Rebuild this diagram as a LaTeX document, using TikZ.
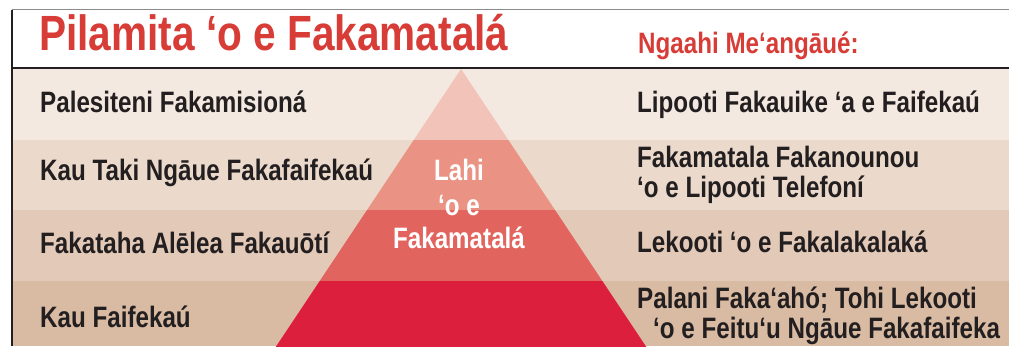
\documentclass[tikz,border=0pt]{standalone}
\usepackage{fontspec}
\setmainfont{Liberation Sans}[FakeStretch=0.82]
\definecolor{ink}{HTML}{231F20}
\definecolor{titlered}{HTML}{D73C37}
\definecolor{bandA}{HTML}{F3E9E0}
\definecolor{bandB}{HTML}{EBDACB}
\definecolor{bandC}{HTML}{E3C9B7}
\definecolor{bandD}{HTML}{D9BBA3}
\definecolor{pyrA}{HTML}{F2C3B8}
\definecolor{pyrB}{HTML}{EA9385}
\definecolor{pyrC}{HTML}{E2645E}
\definecolor{pyrD}{HTML}{DC1F3C}
\tikzset{
  txt/.style={anchor=base west,inner sep=0pt,text=ink,font=\bfseries\fontsize{29.5}{34}\selectfont},
  pyrtxt/.style={anchor=base,inner sep=0pt,text=white,font=\bfseries\fontsize{29.5}{34}\selectfont}
}
\begin{document}
\begin{tikzpicture}[x=1pt,y=-1pt]
  \useasboundingbox (0,0) rectangle (1009,346);
  \fill[bandA] (12,68) rectangle (1009,140);
  \fill[bandB] (12,140) rectangle (1009,210);
  \fill[bandC] (12,210) rectangle (1009,281);
  \fill[bandD] (12,281) rectangle (1009,346);
  \begin{scope}
    \clip (461,69) -- (647,348) -- (275,348) -- cycle;
    \fill[pyrA] (250,60) rectangle (700,140);
    \fill[pyrB] (250,140) rectangle (700,210);
    \fill[pyrC] (250,210) rectangle (700,281);
    \fill[pyrD] (250,281) rectangle (700,350);
  \end{scope}
  \draw[black!45,line width=1.5pt] (12,9.5) -- (1009,9.5);
  \draw[ink,line width=1.5pt] (12,9.5) -- (12,346);
  \draw[ink,line width=1.5pt] (12,68) -- (1009,68);

  \node[anchor=base west,inner sep=0pt,text=titlered,font=\bfseries\fontsize{49.5}{56}\selectfont] (title) at (39,50) {Pilamita ‘o e Fakamatalá};
  \node[txt,text=titlered] (tools) at (638,53) {Ngaahi Me‘angāué:};

  \node[txt] (l1) at (40,112) {Palesiteni Fakamisioná};
  \node[txt] (l2) at (40,180) {Kau Taki Ngāue Fakafaifekaú};
  \node[txt] (l3) at (40,253) {Fakataha Alēlea Fakauōtí};
  \node[txt] (l4) at (40,327) {Kau Faifekaú};

  \node[pyrtxt] (p1) at (459,180) {Lahi};
  \node[pyrtxt] (p2) at (459,215) {‘o e};
  \node[pyrtxt] (p3) at (459,248) {Fakamatalá};

  \node[txt] (r1) at (637,112) {Lipooti Fakauike ‘a e Faifekaú};
  \node[txt] (r2a) at (637,167) {Fakamatala Fakanounou};
  \node[txt] (r2b) at (637,197) {‘o e Lipooti Telefoní};
  \node[txt] (r3) at (637,252) {Lekooti ‘o e Fakalakalaká};
  \node[txt] (r4a) at (637,308) {Palani Faka‘ahó; Tohi Lekooti};
  \node[txt] (r4b) at (653,338) {‘o e Feitu‘u Ngāue Fakafaifeka};
\end{tikzpicture}
\end{document}
